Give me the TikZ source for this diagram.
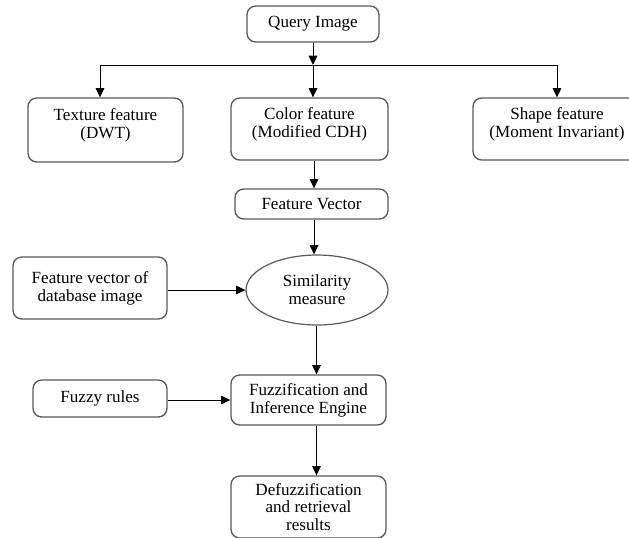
\documentclass[tikz,border=0pt]{standalone}
\usepackage{fontspec}
\setmainfont{Liberation Serif}
\usetikzlibrary{arrows.meta,shapes.geometric}
\tikzset{
  box/.style={draw=black!65, line width=1pt, rounded corners=6.5pt, align=center,
    inner sep=2pt, font=\fontsize{12.8}{13.3}\selectfont},
  oval/.style={draw=black!65, line width=0.9pt, ellipse, align=center, inner sep=0pt,
    font=\fontsize{12.8}{13.3}\selectfont},
  arr/.style={line width=0.75pt, -{Triangle[length=7pt,width=6.5pt]}},
  ln/.style={line width=0.75pt}
}
\begin{document}
\begin{tikzpicture}[x=0.75pt,y=-0.75pt]
\useasboundingbox (0,0) rectangle (629,537);
\node[box, minimum width=99pt, minimum height=27pt] (q) at (313,24) {Query Image};
\node[box, minimum width=116.25pt, minimum height=48pt] (tex) at (105.5,130) {Texture feature\\(DWT)\\[-4pt]};
\node[box, minimum width=117.75pt, minimum height=46.5pt] (col) at (309.5,129) {Color feature\\(Modified CDH)\\[-4pt]};
\node[box, minimum width=126pt, minimum height=46.5pt] (shp) at (557,129) {Shape feature\\(Moment Invariant)\\[-4pt]};
\node[box, minimum width=114.75pt, minimum height=22.5pt] (fv) at (311.5,204) {Feature Vector};
\node[oval, minimum width=106.5pt, minimum height=52.5pt] (sim) at (317,290) {Similarity\\measure};
\node[box, minimum width=115.5pt, minimum height=46.5pt] (db) at (90,288) {Feature vector of\\database image};
\node[box, minimum width=100.5pt, minimum height=27.75pt] (fr) at (100,398.5) {Fuzzy rules};
\node[box, minimum width=116.25pt, minimum height=37.5pt] (fz) at (308.5,400) {Fuzzification and\\Inference Engine};
\node[box, minimum width=116.25pt, minimum height=46.5pt] (dz) at (308.5,507) {Defuzzification\\and retrieval\\results};
\coordinate (bus) at (313,65);
\coordinate (bl) at (100,65);
\coordinate (br) at (557,65);
\coordinate (xa) at (314,0);
\coordinate (xb) at (316.5,0);
\draw[arr] (q.south) -- (bus);
\draw[ln] (bl) -- (br);
\draw[arr] (bl) -- (bl |- tex.north);
\draw[arr] (bus) -- (bus |- col.north);
\draw[arr] (br) -- (br |- shp.north);
\draw[arr] (col.south -| xa) -- (fv.north -| xa);
\draw[arr] (fv.south -| xa) -- (sim.north -| xa);
\draw[arr] (db.east |- sim.west) -- (sim.west);
\draw[arr] (sim.south -| xb) -- (fz.north -| xb);
\draw[arr] (fr.east |- fz.west) -- (fz.west);
\draw[arr] (fz.south -| xb) -- (dz.north -| xb);
\end{tikzpicture}
\end{document}
